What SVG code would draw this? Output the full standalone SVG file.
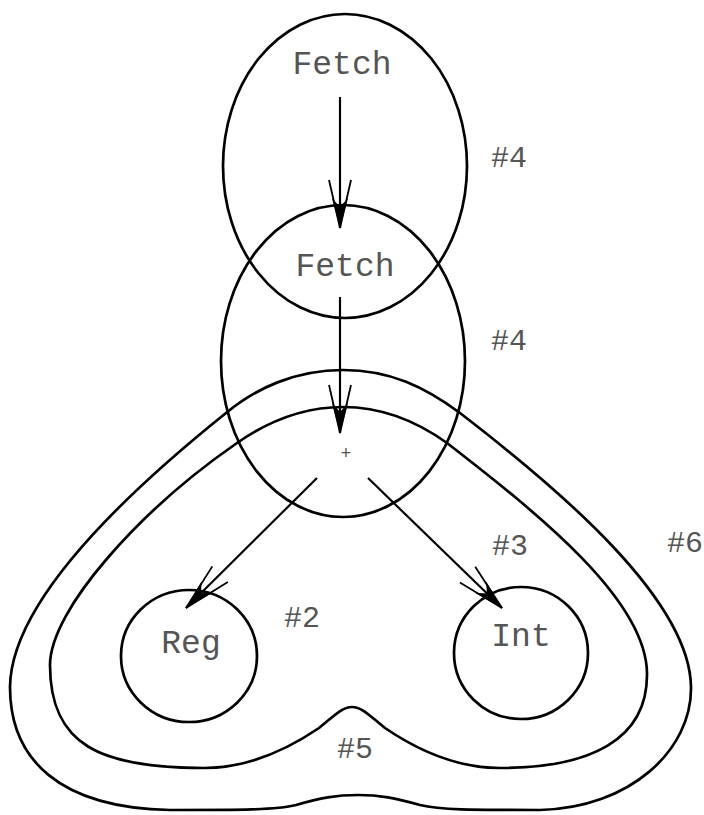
<svg xmlns="http://www.w3.org/2000/svg" width="704" height="815" viewBox="0 0 704 815">
<style>
.shape{fill:none;stroke:#000;stroke-width:2.7}
.edge{fill:none;stroke:#000;stroke-width:2.2}
.lbl{font-family:"Liberation Mono","Courier New",monospace;font-size:33px;fill:#555;text-anchor:middle}
.tag{font-family:"Liberation Mono","Courier New",monospace;font-size:30px;fill:#555;text-anchor:middle}
</style>
<defs>
<marker id="arr" markerUnits="userSpaceOnUse" viewBox="-52 -14 54 28" refX="0" refY="0" markerWidth="54" markerHeight="28" orient="auto" overflow="visible">
<path d="M0,0 L-30,-8 L-21,0 L-30,8 Z" fill="#000"/>
<path d="M-48,-11 L0,0 L-48,11" fill="none" stroke="#000" stroke-width="1.8"/>
</marker>
</defs>
<rect width="704" height="815" fill="#fff"/>
<g id="cluster6">
<path class="shape" d="M343,370 C390,370 425,387 460,413 C560,490 690,600 691,687 C692,750 630,808 540,810 C470,810 440,810 420,805 C395,798 380,795 358,795 C336,795 320,798 296,805 C276,810 240,810 170,810 C60,808 10,760 10,687 C11,600 130,490 226,413 C256,388 296,370 343,370 Z"/>
<text class="tag" x="667" y="552" style="text-anchor:start">#6</text>
</g>
<g id="cluster5">
<path class="shape" d="M343,407 C380,407 415,420 447,443 C540,515 646,600 647,673 C648,740 590,768 500,768 C450,768 410,745 385,728 C370,716 362,707 352,707 C342,707 334,716 319,728 C294,745 254,768 204,768 C100,768 50,745 50,665 C50,610 140,510 237,443 C270,420 305,407 343,407 Z"/>
<text class="tag" x="355" y="758">#5</text>
</g>
<g id="fetch1">
<ellipse class="shape" cx="345" cy="166" rx="122" ry="152"/>
<text class="lbl" x="342" y="74">Fetch</text>
<text class="tag" x="509" y="167">#4</text>
</g>
<g id="fetch2">
<ellipse class="shape" cx="343" cy="361" rx="122" ry="156"/>
<text class="lbl" x="345" y="276">Fetch</text>
<text class="tag" x="509" y="350">#4</text>
</g>
<g id="plus">
<text class="tag" x="346" y="459" style="font-size:18px">+</text>
</g>
<g id="reg">
<ellipse class="shape" cx="189" cy="656" rx="68" ry="66"/>
<text class="lbl" x="191" y="653">Reg</text>
<text class="tag" x="302" y="627">#2</text>
</g>
<g id="int">
<ellipse class="shape" cx="521" cy="653" rx="67" ry="66"/>
<text class="lbl" x="521" y="646">Int</text>
<text class="tag" x="510" y="555">#3</text>
</g>
<g id="connectors">
<line class="edge" x1="340" y1="97" x2="340" y2="228" marker-end="url(#arr)"/>
<line class="edge" x1="340" y1="297" x2="340" y2="433" marker-end="url(#arr)"/>
<line class="edge" x1="317" y1="478" x2="186" y2="608" marker-end="url(#arr)"/>
<line class="edge" x1="368" y1="478" x2="502" y2="608" marker-end="url(#arr)"/>
</g>
</svg>
